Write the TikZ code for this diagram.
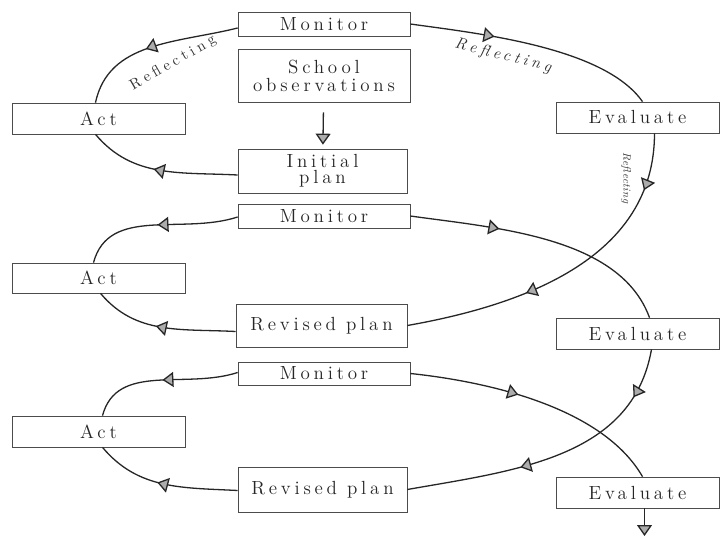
\documentclass[tikz,border=0pt]{standalone}
\usepackage{fontspec}
\usepackage{tikz}
\usetikzlibrary{arrows.meta, decorations.markings}
\newfontfamily\boxfont{lmroman12-regular.otf}[LetterSpace=20]
\newfontfamily\reflfont{lmroman10-italic.otf}[LetterSpace=24]
\newfontfamily\reflupfont{lmroman10-regular.otf}[LetterSpace=26]
\newfontfamily\reflsmall{lmroman10-italic.otf}[LetterSpace=5]

\begin{document}
\begin{tikzpicture}[x=1pt, y=1pt,
    stage/.style={draw=black!70, line width=0.7pt, fill=white, inner sep=0pt,
        align=center, text=black!85, font={\boxfont\fontsize{19}{16}\selectfont}},
    loop/.style={line width=1.3pt, black!85},
    tip/.style={-{Triangle[width=15pt, length=11pt, fill=gray!65]}},
    mid arrow/.style={postaction={decorate, decoration={markings,
        mark=at position #1 with {\arrow{Triangle[width=15pt, length=11pt, fill=gray!65]}}}}},
    refl/.style={text=black!80}]

\useasboundingbox (0, 0) rectangle (720, 542);

% ── CYCLE 1 ──────────────────────────────────────────────────────
\node[stage, minimum width=172, minimum height=24] (mon1) at (324, 518) {Monitor};
\node[stage, minimum width=172, minimum height=53] (school) at (324, 466.5) {School\\[2pt]observations};
\node[stage, minimum width=169, minimum height=44] (init) at (322.5, 371) {Initial\\plan};
\node[stage, minimum width=173, minimum height=31] (act1) at (98.5, 423.5) {Act};
\node[stage, minimum width=163, minimum height=31] (eval1) at (637.5, 424.5) {Evaluate};

% ── CYCLE 2 ──────────────────────────────────────────────────────
\node[stage, minimum width=172, minimum height=24] (mon2) at (324, 326) {Monitor};
\node[stage, minimum width=173, minimum height=30] (act2) at (98.5, 264) {Act};
\node[stage, minimum width=171, minimum height=43] (rev1) at (321.5, 216.5) {Revised plan};
\node[stage, minimum width=163, minimum height=31] (eval2) at (637.5, 208.5) {Evaluate};

% ── CYCLE 3 ──────────────────────────────────────────────────────
\node[stage, minimum width=172, minimum height=23] (mon3) at (324, 168.5) {Monitor};
\node[stage, minimum width=173, minimum height=31] (act3) at (98.5, 110.5) {Act};
\node[stage, minimum width=169, minimum height=45] (rev2) at (322.5, 52.5) {Revised plan};
\node[stage, minimum width=163, minimum height=31] (eval3) at (637.5, 49.5) {Evaluate};
\coordinate (exit) at (644.5, 6);

% Reflecting labels
\node[refl, font={\reflupfont\fontsize{15}{15}\selectfont}, rotate=30] (refl1) at (173, 479) {Reflecting};
\node[refl, font={\reflfont\fontsize{16}{16}\selectfont}, rotate=-14] (refl2) at (503, 486) {Reflecting};
\node[refl, font={\reflsmall\fontsize{11}{11}\selectfont}, rotate=-90] (refl3) at (626, 364) {Reflecting};

% Loops
\draw[loop, tip, shorten <=10pt, shorten >=4pt] (school) -- (init);

\draw[loop, mid arrow=0.55] ([yshift=-4pt]mon1.west) to[out=194, in=78] ([xshift=-3pt]act1.north);
\draw[loop, mid arrow=0.55] ([yshift=-4pt]init.west) to[out=177, in=-50] ([xshift=-3pt]act1.south);
\draw[loop, mid arrow=0.34] (mon1.east) to[out=-8, in=125, looseness=0.7] ([xshift=5pt]eval1.north);
\draw[loop, mid arrow=0.17, mid arrow=0.64] ([xshift=17pt]eval1.south) to[out=-90, in=10] (rev1.east);

\draw[loop, mid arrow=0.5] ([yshift=-1pt]mon2.west) to[out=198, in=75] ([xshift=-5pt]act2.north);
\draw[loop, mid arrow=0.55] ([yshift=-6pt]rev1.west) to[out=177, in=-50] ([xshift=2pt]act2.south);
\draw[loop, mid arrow=0.33] (mon2.east) to[out=-8, in=110, looseness=0.85] ([xshift=12pt]eval2.north);
\draw[loop, mid arrow=0.17, mid arrow=0.62] ([xshift=14pt]eval2.south) to[out=-100, in=10] (rev2.east);

\draw[loop, mid arrow=0.5] ([yshift=1pt]mon3.west) to[out=198, in=75] ([xshift=4pt]act3.north);
\draw[loop, mid arrow=0.55] ([yshift=-1pt]rev2.west) to[out=177, in=-50] ([xshift=4pt]act3.south);
\draw[loop, mid arrow=0.42] (mon3.east) to[out=-6, in=120, looseness=0.8] ([xshift=5pt]eval3.north);
\draw[loop, tip] ([xshift=7pt]eval3.south) -- (exit);

\end{tikzpicture}
\end{document}
